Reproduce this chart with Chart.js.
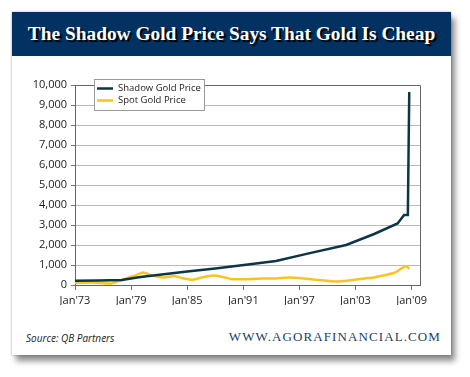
<!DOCTYPE html>
<html>
<head>
<meta charset="utf-8">
<script src="https://cdn.jsdelivr.net/npm/chart.js@4.4.1/dist/chart.umd.min.js"></script>
<style>
  html, body { margin: 0; padding: 0; background: #fff; }
  #wrap { position: relative; width: 470px; height: 377px; overflow: hidden; }
  #card {
    position: absolute; left: 12px; top: 12px; width: 439px; height: 343px;
    background: #fff;
    box-shadow: 0 0 2px rgba(0,0,0,0.35), 4px 6px 6px rgba(0,0,0,0.45);
  }
  #head {
    position: absolute; left: 12px; top: 12px; width: 439px; height: 44px;
    background: #023162;
  }
  #title {
    position: absolute; left: 12px; top: 12px; width: 439px; height: 44px;
    line-height: 44px; text-align: center; color: #fff; white-space: nowrap;
    font-family: "Liberation Serif", "DejaVu Serif", serif; font-weight: bold;
    font-size: 20px; text-shadow: 2px 2px 1px #000;
  }
  #source {
    position: absolute; left: 26px; top: 331px;
    font-family: "Open Sans", "Noto Sans", sans-serif; font-style: italic;
    font-size: 10px; color: #222;
  }
  #site {
    position: absolute; right: 29px; top: 329px;
    font-family: "Liberation Serif", "DejaVu Serif", serif;
    font-size: 13px; letter-spacing: 1.1px; color: #1d3f62;
  }
  canvas { position: absolute; left: 0; top: 0; }
</style>
</head>
<body>
<div id="wrap">
  <div id="card"></div>
  <div id="head"></div>
  <div id="title">The Shadow Gold Price Says That Gold Is Cheap</div>
  <div id="source">Source: QB Partners</div>
  <div id="site">WWW.AGORAFINANCIAL.COM</div>
  <canvas id="chart" width="470" height="377"></canvas>
</div>
<script>
// values
const shadowYears  = [1973, 1975.5, 1978, 1980, 1982.5, 1985, 1988, 1991.5, 1994.5, 1998, 2002, 2005, 2007.5, 2008.2, 2008.6, 2008.75];
const shadowValues = [210, 230, 250, 400, 540, 670, 820, 1020, 1200, 1580, 2000, 2550, 3080, 3500, 3500, 9650];

const spotYears  = [1973, 1975, 1976.9, 1978, 1979.3, 1980.3, 1981.2, 1982.5, 1983.6, 1984.5, 1985.5, 1986.6, 1987.7, 1988.8, 1989.8, 1991, 1993, 1994.5, 1996, 1997.5, 1999, 2001, 2002.5, 2004, 2005, 2006.2, 2007.2, 2008.4, 2008.75];
const spotValues = [110, 120, 80, 250, 450, 620, 480, 370, 450, 340, 260, 380, 470, 400, 290, 290, 320, 330, 370, 320, 250, 170, 240, 330, 380, 500, 620, 950, 800];

const tickYears = [1973, 1979, 1985, 1991, 1997, 2003, 2009];
const seriesNames = ['Shadow Gold Price', 'Spot Gold Price'];

const toPoints = (xs, ys) => xs.map((x, i) => ({ x: x, y: ys[i] }));

// fit the title to its width in the picture
(function () {
  const el = document.getElementById('title');
  const c = document.createElement('canvas').getContext('2d');
  c.font = 'bold 20px "Liberation Serif"';
  const w = c.measureText(el.textContent).width;
  el.style.fontSize = (20 * 408 / w).toFixed(2) + 'px';
})();

const frame = {
  id: 'frame',
  afterDraw(chart) {
    const { ctx, chartArea: a } = chart;
    ctx.save();
    ctx.strokeStyle = '#666';
    ctx.lineWidth = 1;
    ctx.beginPath();
    ctx.moveTo(a.left, a.top + 0.5);
    ctx.lineTo(a.right + 0.5, a.top + 0.5);
    ctx.lineTo(a.right + 0.5, a.bottom);
    ctx.stroke();

    // legend box inside the plot
    const bx = 94, by = 79, bw = 110, bh = 31;
    ctx.fillStyle = '#fff';
    ctx.fillRect(bx, by, bw, bh);
    ctx.strokeStyle = '#999';
    ctx.strokeRect(bx + 0.5, by + 0.5, bw, bh);
    ctx.font = '9.5px "Open Sans", "Noto Sans", sans-serif';
    ctx.textBaseline = 'middle';
    chart.data.datasets.forEach((ds, i) => {
      const y = 88.5 + i * 12;
      ctx.strokeStyle = ds.borderColor;
      ctx.lineWidth = 2.5;
      ctx.beginPath();
      ctx.moveTo(97, y);
      ctx.lineTo(113, y);
      ctx.stroke();
      ctx.fillStyle = '#222';
      ctx.fillText(ds.label, 118, y);
    });
    ctx.restore();
  }
};

new Chart(document.getElementById('chart'), {
  type: 'line',
  data: {
    datasets: [
      {
        label: seriesNames[0],
        data: toPoints(shadowYears, shadowValues),
        borderColor: '#0c3547',
        borderWidth: 2.5,
        pointRadius: 0,
        tension: 0
      },
      {
        label: seriesNames[1],
        data: toPoints(spotYears, spotValues),
        borderColor: '#fbc31c',
        borderWidth: 2.5,
        pointRadius: 0,
        tension: 0.2
      }
    ]
  },
  options: {
    responsive: false,
    animation: false,
    layout: { padding: { left: 0, top: 85, right: 50, bottom: 72 } },
    plugins: { legend: { display: false }, tooltip: { enabled: false } },
    scales: {
      x: {
        type: 'linear',
        min: 1973,
        max: 2009.9,
        afterBuildTicks(scale) { scale.ticks = tickYears.map(v => ({ value: v })); },
        afterFit(scale) { scale.height = 20; },
        grid: { drawOnChartArea: false, drawTicks: true, tickLength: 5, color: '#777' },
        border: { display: true, color: '#666' },
        ticks: {
          autoSkip: false,
          maxRotation: 0,
          padding: 4,
          color: '#222',
          font: { family: '"Open Sans", "Noto Sans", sans-serif', size: 11 },
          callback: v => "Jan'" + String(v).slice(2)
        }
      },
      y: {
        min: 0,
        max: 10000,
        afterFit(scale) { scale.width = 75; },
        grid: { color: '#bbb', tickLength: 4, tickColor: '#777' },
        border: { display: true, color: '#666' },
        ticks: {
          stepSize: 1000,
          padding: 4,
          color: '#222',
          font: { family: '"Open Sans", "Noto Sans", sans-serif', size: 11 },
          callback: v => v.toLocaleString('en-US')
        }
      }
    }
  },
  plugins: [frame]
});
</script>
</body>
</html>
